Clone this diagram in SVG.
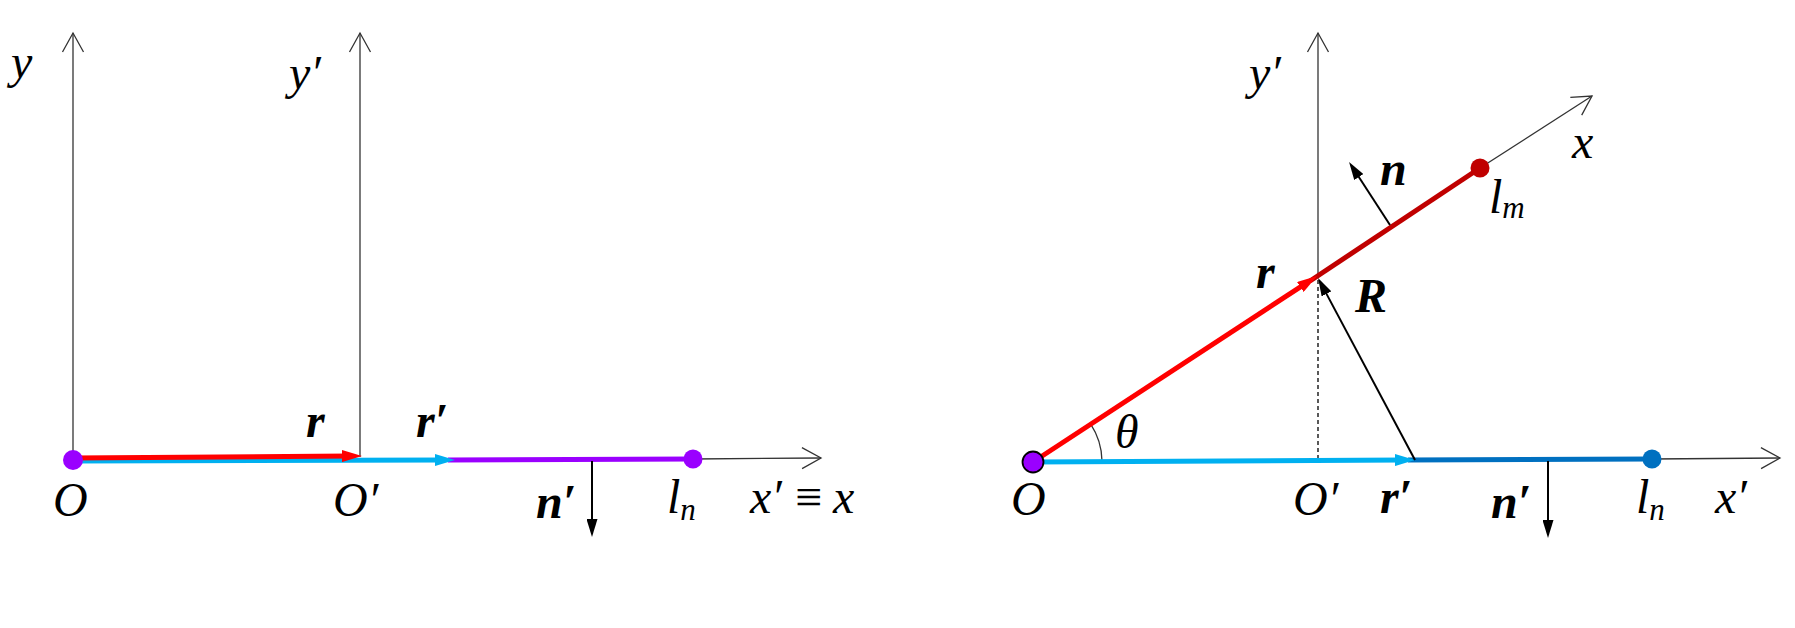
<svg xmlns="http://www.w3.org/2000/svg" width="1795" height="628" viewBox="0 0 1795 628">
<style>
.ax{stroke:#333;stroke-width:1.3;fill:none}
.it{font-family:'Liberation Serif','DejaVu Serif',serif;font-style:italic;font-size:48px;fill:#000}
.bi{font-family:'Liberation Serif','DejaVu Serif',serif;font-style:italic;font-weight:bold;font-size:48px;fill:#000}
.sub{font-size:31px}
.thick{stroke-width:5;fill:none}
</style>
<defs>
<marker id="open" markerUnits="userSpaceOnUse" viewBox="0 0 22 22" refX="20" refY="11" markerWidth="22" markerHeight="22" orient="auto" overflow="visible">
<path d="M1,0.5 L20,11 L1,21.5" fill="none" stroke="#333" stroke-width="1.3"/>
</marker>
<marker id="ahRed" markerUnits="userSpaceOnUse" viewBox="0 0 20 12" refX="8" refY="6" markerWidth="20" markerHeight="12" orient="auto">
<path d="M0,0 L20,6 L0,12 z" fill="#ff0000"/>
</marker>
<marker id="ahCyan" markerUnits="userSpaceOnUse" viewBox="0 0 20 12" refX="8" refY="6" markerWidth="20" markerHeight="12" orient="auto">
<path d="M0,0 L20,6 L0,12 z" fill="#00b0f0"/>
</marker>
<marker id="ahBlk" markerUnits="userSpaceOnUse" viewBox="0 0 18 11" refX="6" refY="5.5" markerWidth="18" markerHeight="11" orient="auto">
<path d="M0,0 L18,5.5 L0,11 z" fill="#000"/>
</marker>
</defs>
<rect width="1795" height="628" fill="#fff"/>

<g id="connectors">
<line class="ax" x1="73" y1="460" x2="73" y2="33" marker-end="url(#open)"/>
<line class="ax" x1="360" y1="457" x2="360" y2="33" marker-end="url(#open)"/>
<line class="ax" x1="693" y1="459" x2="821" y2="458" marker-end="url(#open)"/>
<line class="thick" stroke="#9a00ff" x1="448" y1="460" x2="693" y2="459"/>
<line class="thick" stroke="#00b0f0" x1="73" y1="461" x2="443" y2="460" marker-end="url(#ahCyan)"/>
<line class="thick" stroke="#ff0000" x1="73" y1="458" x2="350" y2="456" marker-end="url(#ahRed)"/>
<line stroke="#000" stroke-width="2" x1="592" y1="461" x2="592" y2="525" marker-end="url(#ahBlk)"/>

<line class="ax" x1="1318" y1="277" x2="1318" y2="33" marker-end="url(#open)"/>
<line stroke="#000" stroke-width="1.3" stroke-dasharray="4,3" x1="1318" y1="280" x2="1318" y2="458"/>
<line class="ax" x1="1480" y1="168" x2="1592" y2="96" marker-end="url(#open)"/>
<line class="ax" x1="1652" y1="459" x2="1780" y2="458" marker-end="url(#open)"/>
<path class="ax" stroke="#000" d="M1102,461 A69,69 0 0 0 1090.7,424.2"/>
<line class="thick" stroke="#c00000" x1="1310" y1="281" x2="1480" y2="168"/>
<line class="thick" stroke="#ff0000" x1="1033" y1="462" x2="1307" y2="282.6" marker-end="url(#ahRed)"/>
<line class="thick" stroke="#0070c0" x1="1408" y1="460" x2="1652" y2="459"/>
<line class="thick" stroke="#00b0f0" x1="1033" y1="462" x2="1403" y2="460" marker-end="url(#ahCyan)"/>
<line stroke="#000" stroke-width="2" x1="1415" y1="460" x2="1323.7" y2="288.6" marker-end="url(#ahBlk)"/>
<line stroke="#000" stroke-width="2" x1="1390" y1="225" x2="1355.6" y2="172" marker-end="url(#ahBlk)"/>
<line stroke="#000" stroke-width="2" x1="1548" y1="461" x2="1548" y2="526" marker-end="url(#ahBlk)"/>
</g>

<g id="node-O-left"><circle cx="73" cy="460" r="10" fill="#9a00ff"/></g>
<g id="node-ln-left"><circle cx="693" cy="459" r="9.5" fill="#9a00ff"/></g>
<g id="node-O-right"><circle cx="1033" cy="462" r="10.5" fill="#9a00ff" stroke="#000" stroke-width="1.8"/></g>
<g id="node-lm-right"><circle cx="1480" cy="168" r="9.5" fill="#c00000"/></g>
<g id="node-ln-right"><circle cx="1652" cy="459" r="9.5" fill="#0070c0"/></g>

<g id="labels-left">
<text class="it" x="11" y="78">y</text>
<text class="it" x="289" y="89">y′</text>
<text class="it" x="53" y="516">O</text>
<text class="it" x="333" y="516">O′</text>
<text class="bi" x="306" y="437">r</text>
<text class="bi" x="416" y="437">r′</text>
<text class="bi" x="536" y="518">n′</text>
<text class="it" x="667" y="513">l<tspan class="sub" dy="7">n</tspan></text>
<text class="it" x="750" y="513">x′<tspan x="795" style="font-style:normal">≡</tspan><tspan x="833">x</tspan></text>
</g>

<g id="labels-right">
<text class="it" x="1249" y="89">y′</text>
<text class="it" x="1572" y="158">x</text>
<text class="bi" x="1380" y="185">n</text>
<text class="it" x="1489" y="213">l<tspan class="sub" dy="5">m</tspan></text>
<text class="bi" x="1256" y="288">r</text>
<text class="bi" x="1355" y="312">R</text>
<text class="it" x="1115" y="448">θ</text>
<text class="it" x="1011" y="515">O</text>
<text class="it" x="1293" y="515">O′</text>
<text class="bi" x="1380" y="513">r′</text>
<text class="bi" x="1491" y="518">n′</text>
<text class="it" x="1636" y="513">l<tspan class="sub" dy="7">n</tspan></text>
<text class="it" x="1715" y="513">x′</text>
</g>
</svg>
